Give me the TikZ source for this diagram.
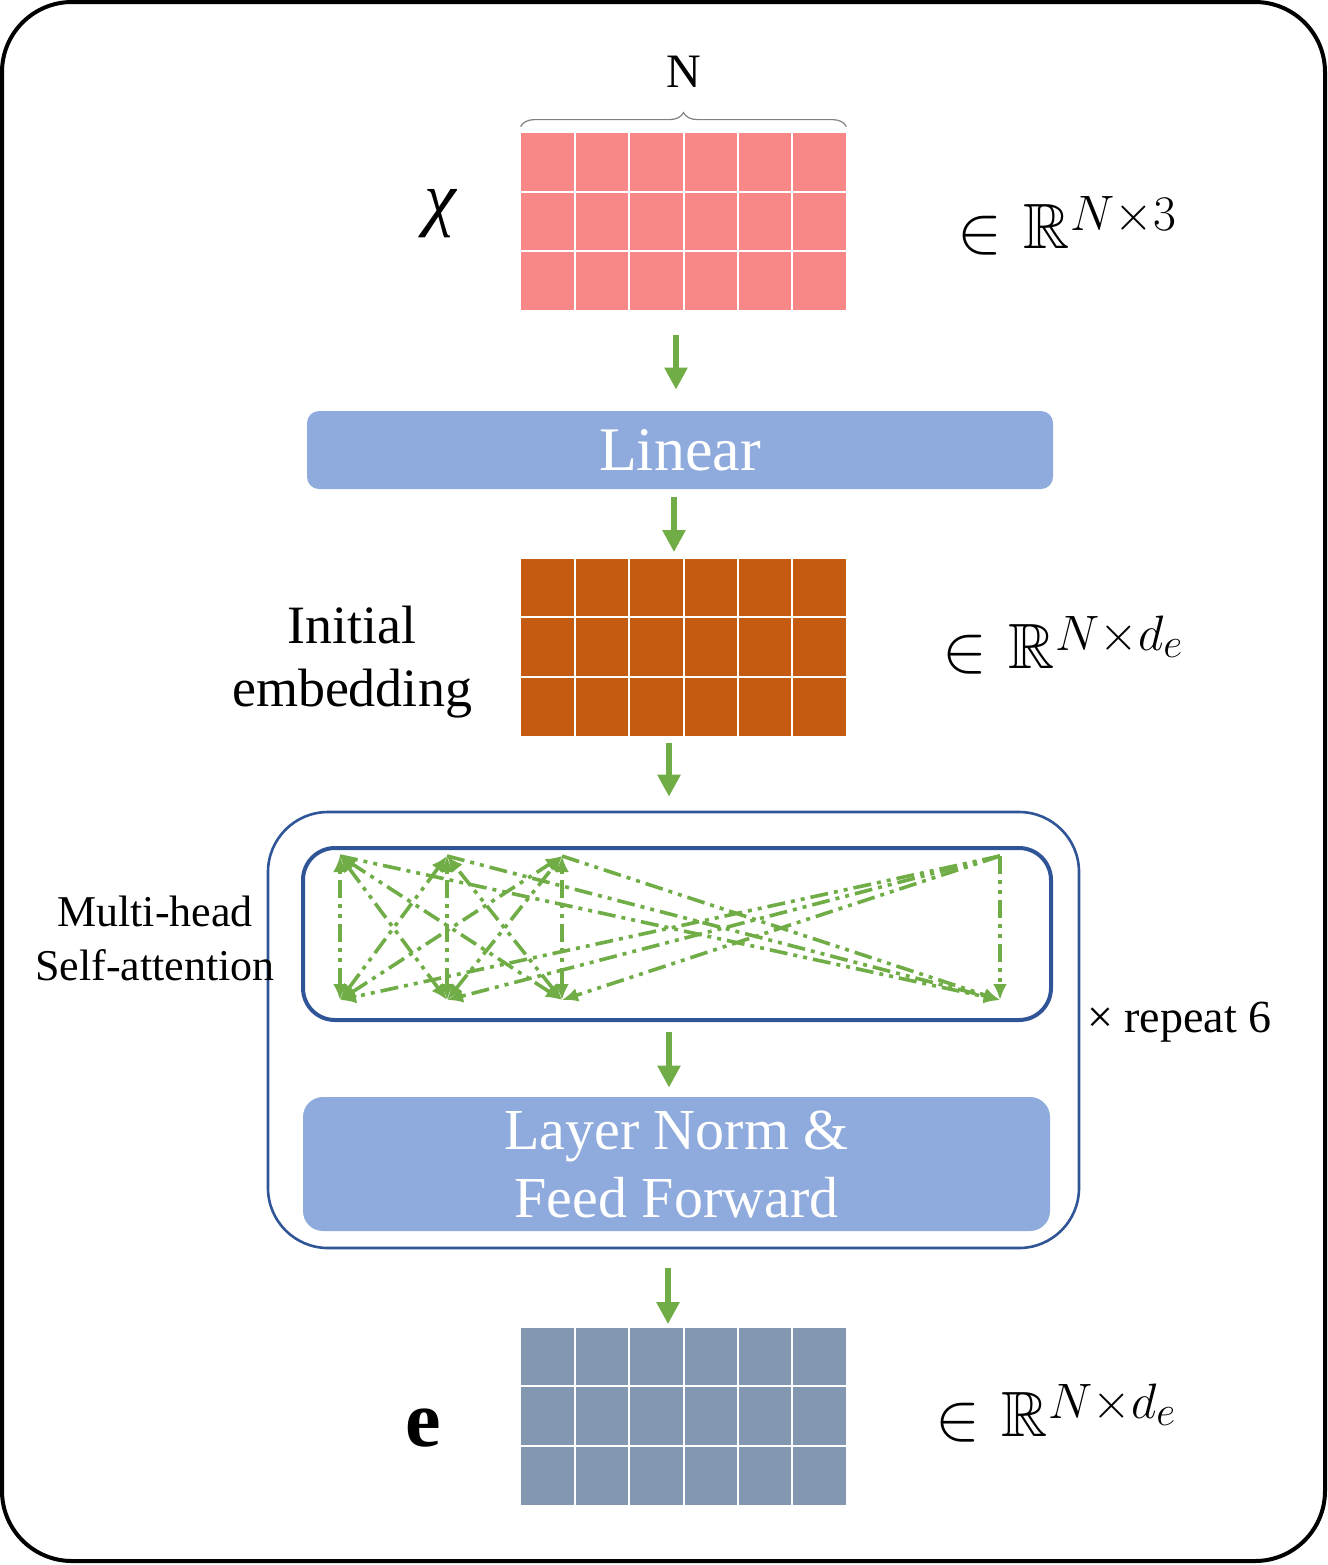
\documentclass[tikz,border=0pt]{standalone}
\usepackage{amsmath,amssymb}
\usepackage{fontspec}
\setmainfont{Liberation Serif}
\DeclareMathSizes{32}{32}{27}{20}
\newcommand{\bigin}{\mathrel{\raisebox{-0.12ex}{\scalebox{1.35}{$\in$}}}}
\usetikzlibrary{positioning,calc,arrows.meta,decorations.pathreplacing}

\definecolor{pinkcell}{RGB}{247,136,135}
\definecolor{orangecell}{RGB}{197,90,17}
\definecolor{slatecell}{RGB}{132,151,176}
\definecolor{boxblue}{RGB}{143,170,220}
\definecolor{linegreen}{RGB}{112,173,71}
\definecolor{edgeblue}{RGB}{47,85,151}

\tikzset{
  mat/.style={fill=#1, minimum width=162.5pt, minimum height=88.5pt, inner sep=0pt},
  flow/.style={draw=linegreen, line width=3pt, -{Triangle[width=11pt,length=11pt]}},
  bluebox/.style={fill=boxblue, text=white, align=center, inner sep=0pt},
  att/.style={draw=linegreen, line width=1.8pt,
    dash pattern=on 9pt off 3pt on 2pt off 3pt on 2pt off 3pt, -{Latex[length=8pt,width=7pt]}},
  attboth/.style={att, {Latex[length=8pt,width=7pt]}-{Latex[length=8pt,width=7pt]}},
}

\begin{document}
\begin{tikzpicture}[x=0.5pt,y=-0.5pt]
\useasboundingbox (0,0) rectangle (1328,1565);
\draw[line width=2pt, rounded corners=35pt] (2,2) rectangle (1325,1561);

% matrices
\node[mat=pinkcell] (chi) at (683.5,221.5) {};
\node[mat=orangecell] (emb) at (683.5,647) {};
\node[mat=slatecell] (out) at (683.5,1416) {};
\foreach \m in {chi,emb,out}{
  \foreach \k in {1,...,5}
    \draw[white, line width=1pt] ($(\m.north west)!\k/6!(\m.north east)$) -- ($(\m.south west)!\k/6!(\m.south east)$);
  \foreach \k in {1,2}
    \draw[white, line width=1pt] ($(\m.north west)!\k/3!(\m.south west)$) -- ($(\m.north east)!\k/3!(\m.south east)$);
}

\draw[gray, line width=0.6pt, decorate, decoration={brace, amplitude=7pt}]
  ([yshift=3pt]chi.north west) -- ([yshift=3pt]chi.north east);
\node[font=\fontsize{24}{28}\selectfont] (ncount) at (684,72) {N};

% boxes
\node[bluebox, rounded corners=6pt, minimum width=373pt, minimum height=39pt,
  font=\fontsize{31}{34}\selectfont] (lin) at (680,450) {Linear};
\node[draw=edgeblue, line width=1.3pt, rounded corners=30pt, minimum width=405.5pt, minimum height=218pt] (block) at (673.5,1030) {};
\node[draw=edgeblue, line width=2pt, rounded corners=16pt, minimum width=374pt, minimum height=86pt] (attn) at (677,934) {};
\node[bluebox, rounded corners=10pt, minimum width=373.5pt, minimum height=67pt,
  font=\fontsize{29}{34}\selectfont] (ln) at (676.5,1164) {Layer Norm \&\\Feed Forward};

% attention graph
\foreach \n/\x in {1/340,2/447,3/562,4/1000}{
  \coordinate (t\n) at (\x,856);
  \coordinate (b\n) at (\x,1000);
}
\foreach \i in {1,2,3}{
  \foreach \j in {1,2,3}
    \draw[attboth] (b\j) -- (t\i);
  \draw[att] (t\i) -- (b4);
}
\foreach \j in {1,...,4}
  \draw[att] (t4) -- (b\j);

% flow arrows
\draw[flow, shorten <=12.5pt, shorten >=10.5pt] ([xshift=-3.75pt]chi.south) -- ([xshift=-3.75pt]chi.south |- lin.north);
\draw[flow, shorten <=4pt, shorten >=3pt] ([xshift=-4.75pt]emb.north |- lin.south) -- ([xshift=-4.75pt]emb.north);
\draw[flow, shorten <=3.5pt, shorten >=7pt] ([xshift=-7.25pt]emb.south) -- ([xshift=-7.25pt]emb.south |- block.north);
\draw[flow, shorten <=5pt, shorten >=4.5pt] ([xshift=-7.25pt]emb.south |- attn.south) -- ([xshift=-7.25pt]emb.south |- ln.north);
\draw[flow, shorten <=9.5pt, shorten >=1.5pt] ([xshift=-7.75pt]out.north |- block.south) -- ([xshift=-7.75pt]out.north);

% labels
\node[font=\fontsize{36}{40}\selectfont\itshape] (chilab) at (440,214) {χ};
\node[anchor=west, font=\fontsize{32}{36}\selectfont] (dimchi) at (950,226) {$\bigin\,\mathbb{R}^{N\times 3}$};
\node[align=center, font=\fontsize{27}{31.5}\selectfont] (emblab) at (352,662) {Initial\\embedding};
\node[anchor=west, font=\fontsize{32}{36}\selectfont] (dimemb) at (935,645) {$\bigin\,\mathbb{R}^{N\times d_e}$};
\node[align=center, font=\fontsize{22}{27}\selectfont] (mhsa) at (155,938) {Multi-head\\Self-attention};
\node[anchor=west, font=\fontsize{23}{27}\selectfont] (rep) at (1080,1022) {× repeat 6};
\node[font=\fontsize{40}{44}\selectfont\bfseries] (elab) at (423,1428) {e};
\node[anchor=west, font=\fontsize{32}{36}\selectfont] (dimout) at (928,1413) {$\bigin\,\mathbb{R}^{N\times d_e}$};
\end{tikzpicture}
\end{document}
